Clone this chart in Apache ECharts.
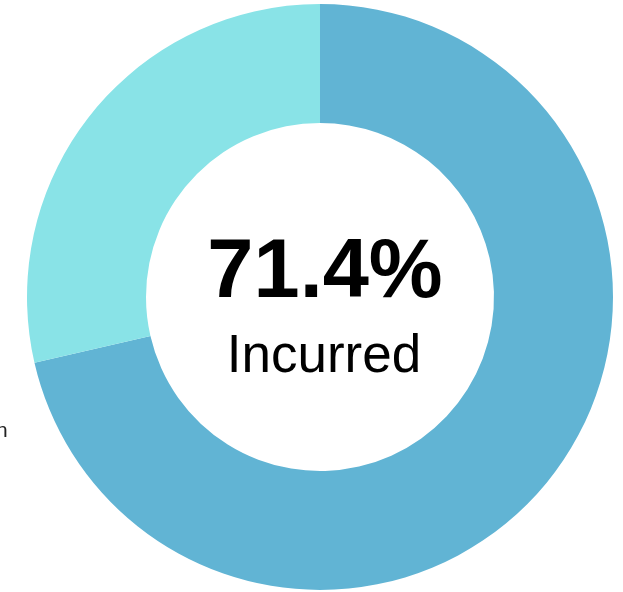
<!DOCTYPE html>
<html>
<head>
<meta charset="utf-8">
<script src="https://cdn.jsdelivr.net/npm/echarts@6/dist/echarts.min.js"></script>
<style>
  html, body { margin: 0; padding: 0; background: #fff; }
  #donut { width: 623px; height: 592px; }
</style>
</head>
<body>
<div id="donut"></div>
<script>
var names = ['Incurred', 'Remaining'];
var values = [71.4, 28.6];
var colors = ['#61b4d4', '#89e3e7'];

var myChart = echarts.init(document.getElementById('donut'));
var option = {
    animation: false,
    series: [{
        name: 'budget',
        type: 'pie',
        center: [320, 297],
        radius: [174, 293],
        startAngle: 90,
        clockwise: true,
        silent: true,
        label: { show: false },
        labelLine: { show: false },
        data: names.map(function (n, i) {
            return { name: n, value: values[i], itemStyle: { color: colors[i] } };
        })
    }],
    graphic: [
        {
            type: 'text',
            style: {
                text: values[0].toFixed(1) + '%',
                x: 325, y: 274,
                textAlign: 'center', textVerticalAlign: 'middle',
                font: 'bold 83px "Liberation Sans", Arial, sans-serif',
                fill: '#000'
            }
        },
        {
            type: 'text',
            style: {
                text: names[0],
                x: 324, y: 357,
                textAlign: 'center', textVerticalAlign: 'middle',
                font: '53px "Liberation Sans", Arial, sans-serif',
                fill: '#000'
            }
        },
        {
            type: 'text',
            style: {
                text: 'n',
                x: -4, y: 431,
                textAlign: 'left', textVerticalAlign: 'middle',
                font: '21px "Liberation Sans", Arial, sans-serif',
                fill: '#222'
            }
        }
    ]
};
myChart.setOption(option);
</script>
</body>
</html>
